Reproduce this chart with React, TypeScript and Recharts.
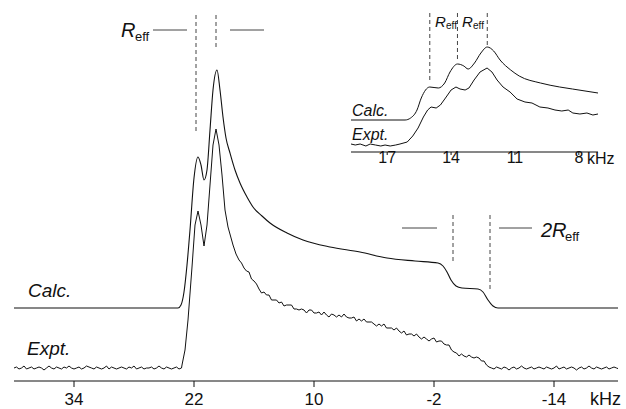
import { Line, LineChart, ReferenceLine, XAxis, YAxis } from "recharts";

// main spectrum: [kHz, height above axis]
const calcMain = [
  [40, 73], [23.6, 73], [23.3, 76], [23.0, 89], [22.7, 116], [22.4, 151], [22.0, 203],
  [21.6, 224], [21.3, 216], [21.0, 201], [20.7, 211], [20.4, 251], [20.1, 291], [19.7, 311],
  [19.4, 291], [19.1, 264], [18.8, 243], [18.4, 228], [17.9, 211], [17.4, 198], [16.7, 184],
  [16.1, 174], [15.2, 165], [14.4, 158], [12.7, 148], [11.1, 141], [8.4, 134], [5.4, 129],
  [2.7, 123], [-0.1, 120], [-2.4, 118], [-2.9, 115], [-3.3, 109], [-3.7, 101], [-4.2, 95],
  [-4.8, 93], [-6.4, 92], [-6.9, 89], [-7.4, 81], [-7.9, 75], [-8.4, 73], [-20.4, 73],
];

// expt, sampled every 0.25 kHz outside the peaks
const exptMainLeft = [
  13, 14, 12, 13, 15, 12, 13, 14, 12, 13, 14, 13, 11, 13, 15, 13, 12, 14, 13, 12,
  14, 13, 15, 13, 12, 13, 14, 12, 13, 15, 14, 13, 12, 14, 13, 12, 13, 15, 12, 14,
  13, 12, 13, 14, 13, 12, 14, 13, 15, 12, 13, 14, 12, 13, 13, 14, 12, 13, 15, 13,
  12, 14, 13, 12, 13, 14, 12, 13,
];
const exptMainPeak = [
  [23.2, 16], [22.9, 31], [22.6, 61], [22.2, 114], [21.9, 156], [21.6, 170], [21.3, 156],
  [21.0, 135], [20.7, 156], [20.4, 196], [20.1, 236], [19.8, 252], [19.5, 236], [19.2, 206],
  [18.9, 171], [18.6, 154], [18.1, 136], [17.8, 127],
];
const exptMainTail = [
  121, 118, 113, 110, 109, 102, 100, 97, 92, 88, 89, 86, 86, 81, 81, 81, 78, 79, 75, 76,
  76, 76, 72, 72, 71, 72, 71, 68, 71, 71, 68, 68, 69, 66, 69, 66, 64, 67, 66, 64,
  66, 64, 67, 64, 63, 63, 64, 60, 62, 60, 62, 59, 59, 59, 57, 55, 57, 55, 57, 53,
  53, 53, 51, 53, 50, 48, 50, 46, 47, 47, 45, 47, 44, 42, 44, 42, 40, 42, 43, 39,
  40, 40, 37, 36, 36, 31, 29, 28, 25, 27, 25, 24, 26, 24, 23, 24, 23, 20, 20, 16,
  14,
];
const exptMainRight = [
  13, 12, 14, 13, 12, 14, 13, 11, 13, 14, 12, 13, 15, 13, 12, 13, 14, 12, 13, 14,
  13, 12, 14, 13, 12, 13, 15, 12, 13, 14, 12, 13, 14, 13, 11, 13, 14, 12, 13, 15,
  13, 12, 14, 13, 12, 13, 14, 12, 13, 14, 13, 12,
];

// inset: [kHz, height above inset axis]
const calcInset = [
  [18.7, 32], [16.16, 32], [15.9, 34], [15.6, 42], [15.4, 54], [15.0, 65], [14.6, 64],
  [14.3, 69], [14.05, 80], [13.7, 88], [13.4, 86], [13.2, 83], [12.9, 89], [12.6, 99],
  [12.3, 105], [12.0, 101], [11.7, 92], [11.2, 82], [10.8, 76], [9.8, 69], [8.9, 65],
  [8.3, 63], [7.1, 59],
];
const exptInset = [
  [18.7, 8], [18.5, 7], [18.27, 8], [18.0, 6], [17.8, 8], [17.55, 7], [17.3, 6], [17.1, 7],
  [16.86, 6], [16.6, 7], [16.4, 8], [16.06, 10], [15.8, 16], [15.55, 24], [15.3, 35],
  [15.1, 42], [14.94, 45], [14.7, 44], [14.5, 47], [14.23, 55], [14.0, 62], [13.77, 65],
  [13.58, 63], [13.34, 62], [13.16, 64], [12.92, 72], [12.64, 80], [12.31, 84], [12.08, 80],
  [11.84, 72], [11.56, 65], [11.23, 60], [10.9, 53], [10.53, 50], [10.2, 49], [9.83, 45],
  [9.45, 44], [9.12, 42], [8.8, 41], [8.5, 42], [8.28, 39], [7.95, 38], [7.62, 39],
  [7.34, 37], [7.1, 38],
];

const mainTicks = [34, 22, 10, -2, -14];
const insetTicks = [17, 14, 11, 8];

const toRows = (pairs: number[][]) => pairs.map(([f, h]) => ({ f, h }));
const stepRows = (start: number, step: number, vals: number[]) =>
  vals.map((h, i) => ({ f: +(start - i * step).toFixed(2), h }));

const calcMainData = toRows(calcMain);
const exptMainData = [
  ...stepRows(40, 0.25, exptMainLeft),
  ...toRows(exptMainPeak),
  ...stepRows(17.5, 0.25, exptMainTail),
  ...stepRows(-7.75, 0.25, exptMainRight),
];
const calcInsetData = toRows(calcInset);
const exptInsetData = toRows(exptInset);

const FONT = "'Liberation Sans', Arial, sans-serif";
const INK = "#111";
const DASH = "#444";

function makeTick(size: number, offset: number) {
  return (props: any) => (
    <text x={props.x} y={props.y + offset} textAnchor="middle" fontFamily={FONT} fontSize={size} fill={INK}>
      {props.payload.value}
    </text>
  );
}

export default function App() {
  return (
    <div style={{ position: "absolute", left: 0, top: 0, width: 626, height: 409, background: "#fff" }}>
      <div style={{ position: "absolute", left: 0, top: 0 }}>
        <LineChart width={626} height={409} margin={{ top: 0, right: 8, left: 14, bottom: 0 }}>
          <XAxis
            type="number"
            dataKey="f"
            domain={[-20.4, 40]}
            reversed
            allowDataOverflow
            ticks={mainTicks}
            height={28}
            tickSize={6}
            stroke={INK}
            tick={makeTick(17, 16)}
          />
          <YAxis hide type="number" domain={[0, 381]} allowDataOverflow />
          <Line data={calcMainData} dataKey="h" type="monotone" stroke={INK} strokeWidth={1.1} dot={false} isAnimationActive={false} />
          <Line data={exptMainData} dataKey="h" type="linear" stroke={INK} strokeWidth={1} dot={false} isAnimationActive={false} />
          <ReferenceLine segment={[{ x: 21.8, y: 366 }, { x: 21.8, y: 248 }]} stroke={DASH} strokeDasharray="4 3" />
          <ReferenceLine segment={[{ x: 19.8, y: 366 }, { x: 19.8, y: 331 }]} stroke={DASH} strokeDasharray="4 3" />
          <ReferenceLine segment={[{ x: 26.1, y: 351 }, { x: 22.7, y: 351 }]} stroke={DASH} />
          <ReferenceLine segment={[{ x: 18.4, y: 351 }, { x: 15.0, y: 351 }]} stroke={DASH} />
          <ReferenceLine segment={[{ x: -3.9, y: 166 }, { x: -3.9, y: 119 }]} stroke={DASH} strokeDasharray="4 3" />
          <ReferenceLine segment={[{ x: -7.6, y: 166 }, { x: -7.6, y: 91 }]} stroke={DASH} strokeDasharray="4 3" />
          <ReferenceLine segment={[{ x: 1.2, y: 153 }, { x: -2.3, y: 153 }]} stroke={DASH} />
          <ReferenceLine segment={[{ x: -8.5, y: 153 }, { x: -11.8, y: 153 }]} stroke={DASH} />
        </LineChart>
      </div>
      <div style={{ position: "absolute", left: 0, top: 0 }}>
        <LineChart width={626} height={180} margin={{ top: 0, right: 28, left: 351, bottom: 0 }}>
          <XAxis
            type="number"
            dataKey="f"
            domain={[7.1, 18.7]}
            reversed
            allowDataOverflow
            ticks={insetTicks}
            height={28}
            tickSize={3}
            stroke={INK}
            tick={makeTick(16, 6)}
          />
          <YAxis hide type="number" domain={[0, 152]} allowDataOverflow />
          <Line data={calcInsetData} dataKey="h" type="monotone" stroke={INK} strokeWidth={1} dot={false} isAnimationActive={false} />
          <Line data={exptInsetData} dataKey="h" type="linear" stroke={INK} strokeWidth={1} dot={false} isAnimationActive={false} />
          <ReferenceLine segment={[{ x: 15.0, y: 139 }, { x: 15.0, y: 72 }]} stroke={DASH} strokeDasharray="4 3" />
          <ReferenceLine segment={[{ x: 13.7, y: 139 }, { x: 13.7, y: 90 }]} stroke={DASH} strokeDasharray="4 3" />
          <ReferenceLine segment={[{ x: 12.3, y: 139 }, { x: 12.3, y: 107 }]} stroke={DASH} strokeDasharray="4 3" />
        </LineChart>
      </div>
      <svg width={626} height={409} style={{ position: "absolute", left: 0, top: 0, pointerEvents: "none" }}>
        <g fontFamily={FONT} fill={INK}>
          <text x={28} y={297} fontSize={19} fontStyle="italic">Calc.</text>
          <text x={27} y={355} fontSize={19} fontStyle="italic">Expt.</text>
          <text x={121} y={37} fontSize={20} fontStyle="italic">R</text>
          <text x={135} y={41} fontSize={13}>eff</text>
          <text x={541} y={237} fontSize={20} fontStyle="italic">2R</text>
          <text x={565} y={241} fontSize={13}>eff</text>
          <text x={590} y={405} fontSize={18}>kHz</text>
          <text x={352} y={116} fontSize={16} fontStyle="italic">Calc.</text>
          <text x={352} y={140} fontSize={16} fontStyle="italic">Expt.</text>
          <text x={435} y={27} fontSize={15} fontStyle="italic">R</text>
          <text x={446} y={29} fontSize={10}>eff</text>
          <text x={462} y={27} fontSize={15} fontStyle="italic">R</text>
          <text x={473} y={29} fontSize={10}>eff</text>
          <text x={587} y={164} fontSize={16}>kHz</text>
        </g>
      </svg>
    </div>
  );
}
